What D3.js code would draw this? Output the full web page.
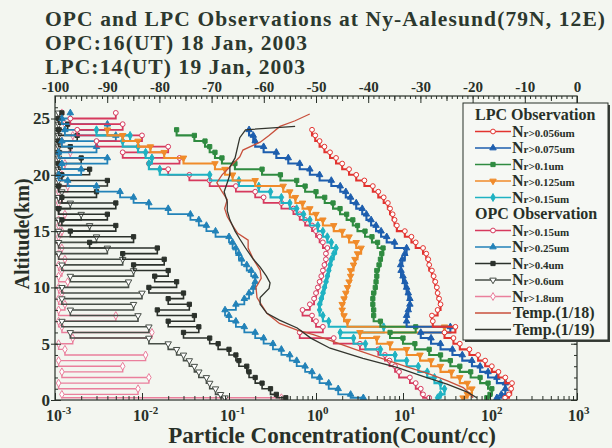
<!DOCTYPE html>
<html>
<head>
<meta charset="utf-8">
<title>OPC and LPC Observations at Ny-Aalesund</title>
<script src="https://cdn.jsdelivr.net/npm/d3@7/dist/d3.min.js"></script>
<style>
  html, body { margin: 0; padding: 0; background: #f3f6f0; }
  svg { display: block; }
  text { font-family: "Liberation Serif", "Times New Roman", Times, serif; font-weight: bold; }
</style>
</head>
<body>
<svg id="chart" width="612" height="448"></svg>
<script>
// ---------------- data ----------------
// LPC sounding altitudes (km)
const lpcAlt = [0.2,0.5,1,1.5,2,2.5,3,3.5,4,4.5,5,5.5,6,6.5,7,7.5,8,8.5,9,9.5,10,10.5,11,11.5,12,12.5,13,13.5,14,14.5,15,15.5,16,16.5,17,17.5,18,18.5,19,19.5,20,20.5,21,21.5,22,22.5,23,23.5,24];
// LPC number concentrations (count/cc)
const lpcN056 = [149,165,175,179,150,125,105,88,73,58,45,38,30,40,22,21.5,25,27,26,25,24.5,23.5,22.5,21.5,20,19.5,18.5,17,14,12.5,10.5,8.5,8,7.6,7.1,6.7,6,5.2,4.5,3.6,2.9,2.4,2.0,1.7,1.45,1.25,1.1,0.98,0.9];
const lpcN075 = [120,135,150,150,120,95,77,62,48,37,27,21,16,35,11,11,11.5,12,12,11.5,11,10.5,10,9.5,9.4,9.8,10.5,11,8,6.5,5.6,4.9,4.3,3.8,3.4,2.9,2.5,2.2,1.9,1.5,1.1,0.85,0.65,0.48,0.35,0.25,0.2,0.19,0.17];
const lpcN100 = [92,100,105,95,77,60,45,35,27,20,13.7,10,7.1,14,5.5,4.6,4.6,4.5,4.5,4.6,4.8,4.9,5.0,5.0,5.3,5.5,5.7,5.9,5.1,4.4,3.66,3.0,2.65,2.25,1.89,1.57,1.26,1.0,0.75,0.6,0.39,0.24,0.117,0.083,0.069,0.06,0.053,0.04,0.025];
const lpcN125 = [49,55,62,55,45,36,27,21,15.7,11,7.1,5,3.2,30,2.3,2.1,2.0,2.0,2.1,2.2,2.3,2.4,2.5,2.5,2.7,2.8,3.0,3.3,2.9,2.4,2.0,1.6,1.2,1.0,0.85,0.7,0.58,0.5,0.42,0.2,0.11,0.09,0.069,0.03,0.018,0.0125,0.009,0.006,0.004];
const lpcN150 = [25,27,30,27,23,19,15,11,8.1,5.5,3.7,2.7,1.9,6,1.4,1.2,1.1,1.1,1.15,1.2,1.25,1.3,1.35,1.4,1.45,1.5,1.6,1.7,1.5,1.35,1.2,1.05,0.85,0.72,0.6,0.5,0.4,0.3,0.22,0.13,0.06,0.016,0.012,0.013,0.011,0.009,0.006,0.0073,0.003];

// OPC sounding altitudes (km)
const opcAlt = [0.2,0.5,1,1.5,2,2.5,3,3.5,4,4.5,5,5.5,6,6.5,7,7.5,8,8.5,9,9.5,10,10.5,11,11.5,12,12.5,13,13.5,14,14.5,15,15.5,16,16.5,17,17.5,18,18.5,19,19.5,20,20.5,21,21.5,22,22.5,23,23.5,24,24.5,25,25.5];
// OPC number concentrations (count/cc)
const opcN015 = [20,17,16,14,12,9,8.1,7,6.2,5.2,3.2,1.6,0.65,1.2,1.0,0.9,0.7,0.85,0.95,1.0,1.05,1.1,1.15,1.2,1.25,1.3,1.3,1.35,1.2,1.1,1.0,0.9,0.75,0.65,0.55,0.4,0.25,0.2,0.12,0.06,0.035,0.02,0.012,0.027,0.006,0.02,0.003,0.01,0.0018,0.006,0.0015,0.005];
const opcN025 = [3.5,2.5,1.8,1.4,1.1,0.9,0.75,0.6,0.5,0.4,0.32,0.25,0.2,0.15,0.12,0.1,0.09,0.12,0.15,0.17,0.19,0.2,0.2,0.18,0.16,0.14,0.13,0.12,0.11,0.1,0.07,0.055,0.045,0.036,0.02,0.012,0.008,0.0056,0.003,0.0014,0.0011,0.002,0.0012,0.004,0.0011,0.003,0.0012,0.005,0.0013,0.004,0.0012,0.0015];
const opcN040 = [0.45,0.35,0.3,0.24,0.2,0.17,0.16,0.13,0.12,0.1,0.075,0.06,0.03,0.045,0.02,0.04,0.015,0.035,0.02,0.03,0.012,0.025,0.014,0.02,0.008,0.018,0.006,0.015,0.0025,0.008,0.0015,0.005,0.0012,0.004,0.0011,0.005,0.0012,0.003,0.0011,0.004,0.0012,0.0025,0.0011,0.002,0.0011,0.0015,0.0011,0.0018,0.0011,0.0014,0.0011,0.0012];
const opcN060 = [0.09,0.08,0.07,0.06,0.055,0.045,0.04,0.035,0.03,0.025,0.02,0.012,0.0015,0.012,0.0012,0.009,0.0015,0.008,0.0012,0.01,0.0012,0.007,0.0015,0.008,0.0012,0.006,0.0011,0.004,0.0011,0.003,0.0011,0.0025,0.0011,0.002,0.0011,0.0015,0.0011,0.0012,0.0011,0.0011,0.0011,0.0011,0.0011,0.0011,0.0011,0.0011,0.0011,0.0011,0.0011,0.0011,0.0011,0.0011];
const opcN180 = [0.4,0.0012,0.009,0.0011,0.012,0.0012,0.006,0.0011,0.011,0.0013,0.0011,0.0016,0.013,0.0012,0.0011,0.005,0.0011,0.0013,0.0011,0.0012,0.0011,0.0014,0.0011,0.0012,0.0011,0.0013,0.0011,0.0012,0.0011,0.0011,0.0012,0.0011,0.0011,0.0013,0.0011,0.0011,0.0012,0.0011,0.0014,0.0011,0.0012,0.0011,0.0013,0.0011,0.0015,0.0011,0.0012,0.0016,0.0011,0.0013,0.0011,0.0012];

// Temperature profiles (deg C, top axis)
const temp0118Alt = [0.2,0.6,1.1,1.7,2.3,3.0,3.75,4.5,5.3,5.8,6.2,6.8,7.7,8.5,9.1,10.0,10.8,11.5,12.5,13.5,14.2,14.8,15.5,16.3,17.0,17.8,18.5,19.3,20.0,20.7,21.6,22.2,22.9,23.5,24.3,24.8,25.4];
const temp0118 = [-19.9,-20.6,-21.8,-24.8,-28.2,-33,-37.7,-42.5,-47.3,-50.5,-53.6,-57,-59.4,-60.5,-61.3,-61.5,-60.5,-60.7,-62,-63,-63,-65,-66,-67,-67.5,-67,-68,-69,-68,-66.5,-64.6,-64,-60.7,-59,-56.9,-54,-51.2];
const temp0119Alt = [0.2,0.7,1.4,2.1,2.9,3.7,4.6,5.5,6.4,7.1,7.7,8.5,9.1,9.9,10.4,11.0,11.8,12.5,13.5,14.3,15.0,16.0,16.8,17.6,18.5,19.3,20.0,20.7,21.5,22.5,23.3,24.0,24.3];
const temp0119 = [-19.2,-21,-24.9,-29.5,-34.5,-41,-47.3,-51,-53.6,-57,-59.4,-60.7,-60.7,-59,-58.8,-59.5,-60.7,-62,-63.5,-64.6,-65.5,-66.5,-67,-67,-67.6,-67,-66.5,-66.5,-65.5,-65,-64.6,-63.5,-54];

// Axis ticks and labels
const concDecades = [1e-3,1e-2,1e-1,1,1e1,1e2,1e3];
const concExponents = ["-3","-2","-1","0","1","2","3"];
const tempTicks = [-100,-90,-80,-70,-60,-50,-40,-30,-20,-10,0];
const altTicks = [0,5,10,15,20,25];
const titleLines = [
  "OPC and LPC Observations at Ny-Aalesund(79N, 12E)",
  "OPC:16(UT) 18 Jan, 2003",
  "LPC:14(UT) 19 Jan, 2003"
];
const titleWidths = [560, 262, 260];

// ---------------- drawing ----------------
const BG = "#f3f6f0";
const INK = "#283028";
const svg = d3.select("#chart");
const frame = {left: 55, right: 577, top: 96, bottom: 400};

const x = d3.scaleLog().domain([1e-3, 1e3]).range([frame.left, frame.right]);
const y = d3.scaleLinear().domain([0, 27]).range([frame.bottom, frame.top]);
const tx = d3.scaleLinear().domain([-100, 0]).range([frame.left, frame.right]);

svg.append("rect").attr("width", 612).attr("height", 448).attr("fill", BG);

// title, three lines
svg.append("g").selectAll("text").data(titleLines).join("text")
  .attr("x", 45).attr("y", (d, i) => 25.5 + i * 24)
  .attr("font-size", 21.5).attr("fill", "#2c382e")
  .attr("textLength", (d, i) => titleWidths[i]).attr("lengthAdjust", "spacing")
  .text(d => d);

svg.append("defs").append("clipPath").attr("id", "plotclip")
  .append("rect").attr("x", frame.left).attr("y", frame.top)
  .attr("width", frame.right - frame.left).attr("height", frame.bottom - frame.top);

const plot = svg.append("g").attr("clip-path", "url(#plotclip)");

const series = [
  {label: "Nr>1.8um",   alt: opcAlt, val: opcN180, color: "#ea7f9c", sym: d3.symbolDiamond,  open: true,  w: 1.4},
  {label: "Nr>0.6um",   alt: opcAlt, val: opcN060, color: "#474e47", sym: d3.symbolTriangle, open: true,  w: 1.6, flip: true},
  {label: "Nr>0.4um",   alt: opcAlt, val: opcN040, color: "#2b312b", sym: d3.symbolSquare,   open: false, w: 1.6},
  {label: "Nr>0.25um",  alt: opcAlt, val: opcN025, color: "#2282b8", sym: d3.symbolTriangle, open: false, w: 1.8},
  {label: "Nr>0.15um",  alt: opcAlt, val: opcN015, color: "#d6395d", sym: d3.symbolCircle,   open: true,  w: 1.8},
  {label: "Nr>0.15um",  alt: lpcAlt, val: lpcN150, color: "#1fb2c2", sym: d3.symbolDiamond,  open: false, w: 2.1},
  {label: "Nr>0.125um", alt: lpcAlt, val: lpcN125, color: "#f08b2a", sym: d3.symbolTriangle, open: false, w: 2.1, flip: true},
  {label: "Nr>0.1um",   alt: lpcAlt, val: lpcN100, color: "#2f8b40", sym: d3.symbolSquare,   open: false, w: 2.1},
  {label: "Nr>0.075um", alt: lpcAlt, val: lpcN075, color: "#1d5eae", sym: d3.symbolTriangle, open: false, w: 2.1},
  {label: "Nr>0.056um", alt: lpcAlt, val: lpcN056, color: "#e2332f", sym: d3.symbolCircle,   open: true,  w: 2.1}
];

const stepLine = d3.line().x(d => x(d.v)).y(d => y(d.a)).curve(d3.curveStepAfter);

series.forEach(s => {
  const pts = s.alt.map((a, i) => ({a: a, v: s.val[i]}));
  const g = plot.append("g");
  g.append("path").datum(pts).attr("d", stepLine)
    .attr("fill", "none").attr("stroke", s.color).attr("stroke-width", s.w);
  g.selectAll("path.mk").data(pts).join("path").attr("class", "mk")
    .attr("transform", d => `translate(${x(d.v)},${y(d.a)})${s.flip ? " rotate(180)" : ""}`)
    .attr("d", d3.symbol(s.sym, 18))
    .attr("fill", s.open ? "#ffffff" : s.color)
    .attr("stroke", s.color).attr("stroke-width", 1);
});

// temperature profiles on the top axis
const temps = [
  {label: "Temp.(1/18)", alt: temp0118Alt, val: temp0118, color: "#c8503c"},
  {label: "Temp.(1/19)", alt: temp0119Alt, val: temp0119, color: "#33352e"}
];
const tempLine = d3.line().x(d => tx(d.v)).y(d => y(d.a));
temps.forEach(t => {
  const pts = t.alt.map((a, i) => ({a: a, v: t.val[i]}));
  plot.append("path").datum(pts).attr("d", tempLine)
    .attr("fill", "none").attr("stroke", t.color).attr("stroke-width", 1.3);
});

// ---- axes ----
function styleAxis(g) {
  g.select(".domain").remove();
  g.style("color", INK);
  g.selectAll("line").attr("stroke", INK).attr("stroke-width", 1);
}

// bottom: log concentration
const minorConc = x.ticks().filter(v => !concDecades.some(d => Math.abs(d - v) / d < 1e-9));
svg.append("g").attr("transform", `translate(0,${frame.bottom})`)
  .call(d3.axisBottom(x).tickValues(concDecades).tickSize(-7).tickSizeOuter(0).tickFormat(""))
  .call(styleAxis);
svg.append("g").attr("transform", `translate(0,${frame.bottom})`)
  .call(d3.axisBottom(x).tickValues(minorConc).tickSize(-4).tickSizeOuter(0).tickFormat(""))
  .call(styleAxis);
const expLabels = svg.append("g").selectAll("text").data(concDecades).join("text")
  .attr("x", d => x(d) - 9).attr("y", 421).attr("font-size", 16).attr("fill", INK);
expLabels.append("tspan").text("10");
expLabels.append("tspan").attr("dy", -7).attr("font-size", 11).text((d, i) => concExponents[i]);

// top: temperature
svg.append("g").attr("transform", `translate(0,${frame.top})`)
  .call(d3.axisTop(tx).tickValues(tempTicks).tickSize(-7).tickSizeOuter(0).tickPadding(4).tickFormat(d => d))
  .call(styleAxis)
  .call(g => g.selectAll("text").attr("font-size", 15).attr("font-family", "Liberation Serif").attr("font-weight", "bold"));
svg.append("g").attr("transform", `translate(0,${frame.top})`)
  .call(d3.axisTop(tx).tickValues(d3.range(-100, 1, 1)).tickSize(-3).tickSizeOuter(0).tickFormat(""))
  .call(styleAxis);
svg.append("g").attr("transform", `translate(0,${frame.top})`)
  .call(d3.axisTop(tx).tickValues(d3.range(-95, 0, 10)).tickSize(-5).tickSizeOuter(0).tickFormat(""))
  .call(styleAxis);

// left: altitude
svg.append("g").attr("transform", `translate(${frame.left},0)`)
  .call(d3.axisLeft(y).tickValues(altTicks).tickSize(4).tickSizeOuter(0).tickPadding(1).tickFormat(d => d))
  .call(styleAxis)
  .call(g => g.selectAll("text").attr("font-size", 17).attr("font-family", "Liberation Serif").attr("font-weight", "bold"));
svg.append("g").attr("transform", `translate(${frame.left},0)`)
  .call(d3.axisLeft(y).tickValues(altTicks).tickSize(-6).tickSizeOuter(0).tickFormat(""))
  .call(styleAxis);
svg.append("g").attr("transform", `translate(${frame.left},0)`)
  .call(d3.axisLeft(y).tickValues(d3.range(0, 27, 1)).tickSize(-3).tickSizeOuter(0).tickFormat(""))
  .call(styleAxis);

// right: altitude ticks only
svg.append("g").attr("transform", `translate(${frame.right},0)`)
  .call(d3.axisRight(y).tickValues(altTicks).tickSize(-6).tickSizeOuter(0).tickFormat(""))
  .call(styleAxis);
svg.append("g").attr("transform", `translate(${frame.right},0)`)
  .call(d3.axisRight(y).tickValues(d3.range(0, 27, 1)).tickSize(-3).tickSizeOuter(0).tickFormat(""))
  .call(styleAxis);

// frame
svg.append("rect").attr("x", frame.left).attr("y", frame.top)
  .attr("width", frame.right - frame.left).attr("height", frame.bottom - frame.top)
  .attr("fill", "none").attr("stroke", INK).attr("stroke-width", 1.2);

// axis titles
svg.append("text").attr("x", 332).attr("y", 443).attr("text-anchor", "middle")
  .attr("font-size", 23).attr("fill", INK).text("Particle Concentration(Count/cc)");
svg.append("text").attr("transform", "translate(29,234) rotate(-90)").attr("text-anchor", "middle")
  .attr("font-size", 20).attr("fill", INK).text("Altitude(km)");

// ---- legend ----
const lg = svg.append("g");
const box = {x: 463, y: 103, w: 145, h: 237};
lg.append("rect").attr("x", box.x + 2).attr("y", box.y + 2).attr("width", box.w).attr("height", box.h).attr("fill", "#3a3f3a");
lg.append("rect").attr("x", box.x).attr("y", box.y).attr("width", box.w).attr("height", box.h)
  .attr("fill", "#f6f8f4").attr("stroke", INK).attr("stroke-width", 1);

const legendRows = [
  {header: "LPC Observation"},
  {s: series[9]}, {s: series[8]}, {s: series[7]}, {s: series[6]}, {s: series[5]},
  {header: "OPC Observation"},
  {s: series[4]}, {s: series[3]}, {s: series[2]}, {s: series[1]}, {s: series[0]},
  {t: temps[0]}, {t: temps[1]}
];
legendRows.forEach((r, i) => {
  const cy = 115 + i * 16.5;
  if (r.header) {
    lg.append("text").attr("x", 475).attr("y", cy + 5).attr("font-size", 16).attr("fill", INK).text(r.header);
    return;
  }
  const item = r.s || r.t;
  lg.append("line").attr("x1", 475).attr("x2", 511).attr("y1", cy).attr("y2", cy)
    .attr("stroke", item.color).attr("stroke-width", 1.4);
  if (r.s) {
    lg.append("path").attr("transform", `translate(493,${cy})${r.s.flip ? " rotate(180)" : ""}`)
      .attr("d", d3.symbol(r.s.sym, 18))
      .attr("fill", r.s.open ? "#ffffff" : r.s.color).attr("stroke", r.s.color).attr("stroke-width", 1);
    const tx0 = lg.append("text").attr("x", 512).attr("y", cy + 5).attr("fill", INK);
    tx0.append("tspan").attr("font-size", 16).text(item.label.slice(0, 1));
    tx0.append("tspan").attr("font-size", 11).text(item.label.slice(1));
  } else {
    lg.append("text").attr("x", 513).attr("y", cy + 5).attr("font-size", 16).attr("fill", INK).text(item.label);
  }
});
</script>
</body>
</html>
